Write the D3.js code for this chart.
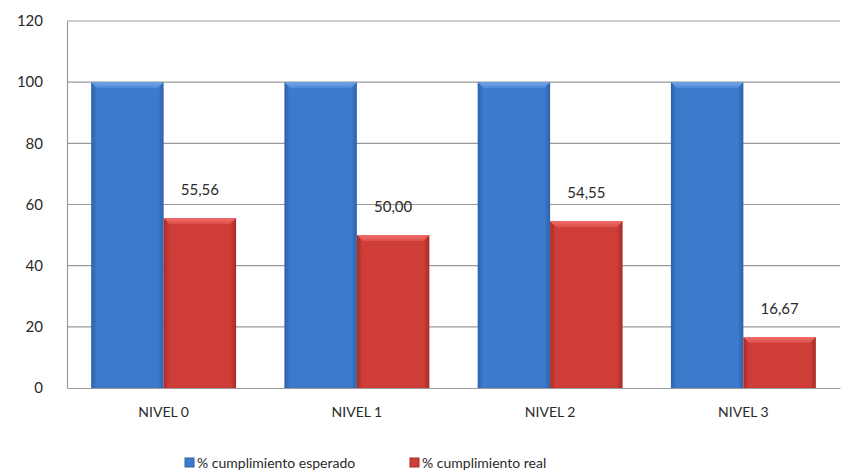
<!DOCTYPE html>
<html>
<head>
<meta charset="utf-8">
<script src="https://cdn.jsdelivr.net/npm/d3@7"></script>
<style>
  html, body { margin: 0; padding: 0; background: #fff; }
  svg { display: block; font-family: Lato, "Open Sans", sans-serif; }
</style>
</head>
<body>
<svg id="chart" width="844" height="476"></svg>
<script>
// Data
const categories = ["NIVEL 0", "NIVEL 1", "NIVEL 2", "NIVEL 3"];
const expected = [100, 100, 100, 100];
const actual = [55.56, 50.00, 54.55, 16.67];
const yTicks = [0, 20, 40, 60, 80, 100, 120];
const seriesNames = ["% cumplimiento esperado", "% cumplimiento real"];

const FONT = "Lato, 'Open Sans', sans-serif";
const svg = d3.select("#chart");
const margin = { top: 21, right: 4, bottom: 88, left: 67 };
const W = 844, H = 476;
const innerW = W - margin.left - margin.right;
const innerH = H - margin.top - margin.bottom;

const x = d3.scaleBand().domain(categories).range([0, innerW]).paddingInner(0.25).paddingOuter(0.125);
const xs = d3.scaleBand().domain([0, 1]).range([0, x.bandwidth()]);
const y = d3.scaleLinear().domain([0, 120]).range([innerH, 0]);

const g = svg.append("g").attr("transform", `translate(${margin.left},${margin.top})`);

// Gradients for the bevelled bars
const defs = svg.append("defs");
const palettes = [
  { id: "blue", edge: "#2c62ab", mid: "#3c7acb", top: "#74a6e8", topEdge: "#4f88d6" },
  { id: "red", edge: "#a82a27", mid: "#cf3d39", top: "#f06d69", topEdge: "#dc4f4b" }
];
palettes.forEach(p => {
  const lg = defs.append("linearGradient").attr("id", "grad-" + p.id).attr("x1", 0).attr("x2", 1).attr("y1", 0).attr("y2", 0);
  lg.append("stop").attr("offset", "0%").attr("stop-color", p.edge);
  lg.append("stop").attr("offset", "8%").attr("stop-color", p.mid);
  lg.append("stop").attr("offset", "92%").attr("stop-color", p.mid);
  lg.append("stop").attr("offset", "100%").attr("stop-color", p.edge);
  const tg = defs.append("linearGradient").attr("id", "top-" + p.id).attr("x1", 0).attr("x2", 0).attr("y1", 0).attr("y2", 1);
  tg.append("stop").attr("offset", "0%").attr("stop-color", p.top);
  tg.append("stop").attr("offset", "100%").attr("stop-color", p.topEdge);
});

// Gridlines
g.append("g").selectAll("line").data(yTicks.filter(t => t > 0)).join("line")
  .attr("x1", 0).attr("x2", innerW)
  .attr("y1", d => y(d)).attr("y2", d => y(d))
  .attr("stroke", "#9a9a9a").attr("stroke-width", 1.2);

// Y axis
const yAxis = g.append("g").call(d3.axisLeft(y).tickValues(yTicks).tickSize(0).tickPadding(24));
yAxis.attr("font-family", FONT);
yAxis.select(".domain").attr("stroke", "#9a9a9a").attr("stroke-width", 1.2);
yAxis.selectAll("text").attr("font-size", 15).attr("fill", "#2a2a2a");

// Bars
const series = [expected, actual];
series.forEach((vals, si) => {
  const p = palettes[si];
  const grp = g.append("g");
  const bars = grp.selectAll("g").data(vals).join("g")
    .attr("transform", (d, i) => `translate(${x(categories[i]) + xs(si)},0)`);
  const bw = xs.bandwidth();
  bars.append("rect")
    .attr("x", 0).attr("width", bw)
    .attr("y", d => y(d)).attr("height", d => innerH - y(d))
    .attr("fill", `url(#grad-${p.id})`);
  // top bevel
  bars.append("path")
    .attr("d", d => {
      const t = y(d), b = 6;
      return `M0,${t} L${bw},${t} L${bw - b},${t + b} L${b},${t + b} Z`;
    })
    .attr("fill", `url(#top-${p.id})`);
});

// Value labels for the actual series
g.append("g").selectAll("text").data(actual).join("text")
  .attr("x", (d, i) => x(categories[i]) + xs(1) + xs.bandwidth() / 2)
  .attr("y", d => y(d) - 23)
  .attr("text-anchor", "middle")
  .attr("font-size", 15)
  .attr("fill", "#2a2a2a")
  .text(d => d.toFixed(2).replace(".", ","));

// X axis
const xAxis = g.append("g").attr("transform", `translate(0,${innerH})`)
  .call(d3.axisBottom(x).tickSize(0).tickPadding(19));
xAxis.attr("font-family", FONT);
xAxis.select(".domain").attr("stroke", "#9a9a9a").attr("stroke-width", 1.2);
xAxis.selectAll("text").attr("font-size", 14).attr("fill", "#2a2a2a");

// Legend
const legend = svg.append("g").attr("transform", "translate(0,463)");
const legendX = [185, 410];
seriesNames.forEach((name, i) => {
  const lg = legend.append("g").attr("transform", `translate(${legendX[i]},0)`);
  lg.append("rect").attr("x", 0).attr("y", -5).attr("width", 9).attr("height", 9)
    .attr("fill", palettes[i].mid).attr("stroke", palettes[i].edge).attr("stroke-width", 1);
  lg.append("text").attr("x", 12).attr("y", 0).attr("dy", "0.35em")
    .attr("font-size", 14).attr("fill", "#2a2a2a").text(name);
});
</script>
</body>
</html>
